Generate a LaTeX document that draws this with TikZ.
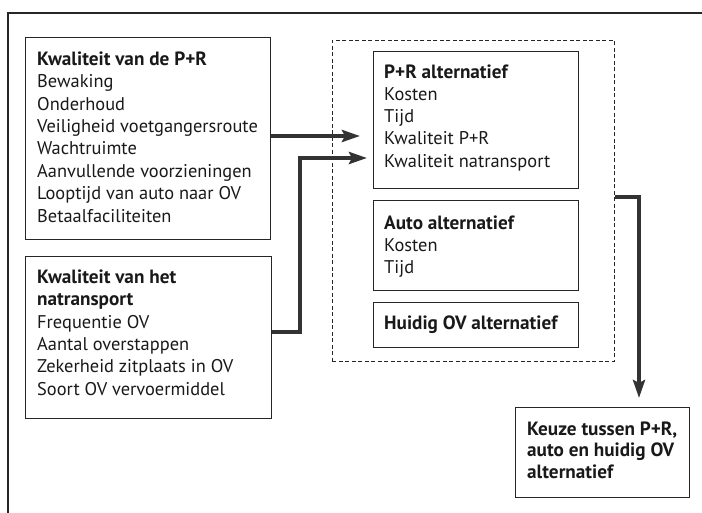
\documentclass[tikz,border=0pt]{standalone}
\usepackage{fontspec}
\setmainfont{PT Sans}
\usetikzlibrary{arrows.meta}
\newcommand\hdr[1]{{\fontsize{19.2}{22.4}\selectfont\bfseries #1}}
\begin{document}
\begin{tikzpicture}[x=1pt,y=-1pt,
  box/.style={draw=black!85, line width=1.2pt, rectangle, inner sep=0pt, anchor=north west},
  txt/.style={anchor=north west, align=left, inner sep=0pt, text=black!90, font=\fontsize{18.4}{22.4}\selectfont},
  flow/.style={draw=black!80, line width=4.5pt, -{Stealth[length=18pt,width=12pt,inset=3pt]}}]
\useasboundingbox (0,0) rectangle (702,512);
\clip (0,0) rectangle (702,512);
% outer frame
\draw[line width=2pt, black!85] (8,13) rectangle (730,540);
% dashed group
\node[draw=black!85, line width=0.9pt, dash pattern=on 4pt off 2.5pt, rectangle, inner sep=0pt, anchor=north west,
      minimum width=282pt, minimum height=321pt] (grp) at (332,40) {};
% left boxes
\node[box, minimum width=245pt, minimum height=202pt] (b1) at (25,37) {};
\node[txt] (t1) at (37,50) {\rule{0pt}{15pt}\hdr{Kwaliteit van de P+R}\\Bewaking\\Onderhoud\\Veiligheid voetgangersroute\\Wachtruimte\\Aanvullende voorzieningen\\Looptijd van auto naar OV\\Betaalfaciliteiten};
\node[box, minimum width=246pt, minimum height=162pt] (b2) at (25,256) {};
\node[txt] (t2) at (37,268) {\rule{0pt}{15pt}\hdr{Kwaliteit van het}\\\hdr{natransport}\\Frequentie OV\\Aantal overstappen\\Zekerheid zitplaats in OV\\Soort OV vervoermiddel};
% right boxes
\node[box, minimum width=205pt, minimum height=137pt] (pr) at (373,51) {};
\node[txt, font=\fontsize{18.4}{22.25}\selectfont] (tpr) at (384,63) {\rule{0pt}{15pt}\hdr{P+R alternatief}\\Kosten\\Tijd\\Kwaliteit P+R\\Kwaliteit natransport};
\node[box, minimum width=205pt, minimum height=90pt] (au) at (373,200) {};
\node[txt, font=\fontsize{18.4}{22}\selectfont] (tau) at (384,214) {\rule{0pt}{15pt}\hdr{Auto alternatief}\\Kosten\\Tijd};
\node[box, minimum width=205pt, minimum height=45pt] (ov) at (373,302) {};
\node[txt] (tov) at (384,314) {\rule{0pt}{15pt}\hdr{Huidig OV alternatief}};
% choice box
\node[box, minimum width=174pt, minimum height=90pt] (kz) at (515,407) {};
\node[txt, font=\bfseries\fontsize{19.2}{21.5}\selectfont] (tkz) at (527,420) {\rule{0pt}{15pt}Keuze tussen P+R,\\auto en huidig OV\\alternatief};
% connectors
\coordinate (y1) at (0,136);
\coordinate (y2) at (0,158);
\coordinate (y3) at (0,197);
\coordinate (xv) at (300,0);
\coordinate (xw) at (639,0);
\draw[flow] (b1.east |- y1) -- ([xshift=-13pt]pr.west |- y1);
\draw[flow] (b2.east |- 0,332) -| (xv |- y2) -- ([xshift=-6pt]pr.west |- y2);
\draw[flow] (grp.east |- y3) -| ([yshift=9pt]kz.north -| xw);
\end{tikzpicture}
\end{document}
